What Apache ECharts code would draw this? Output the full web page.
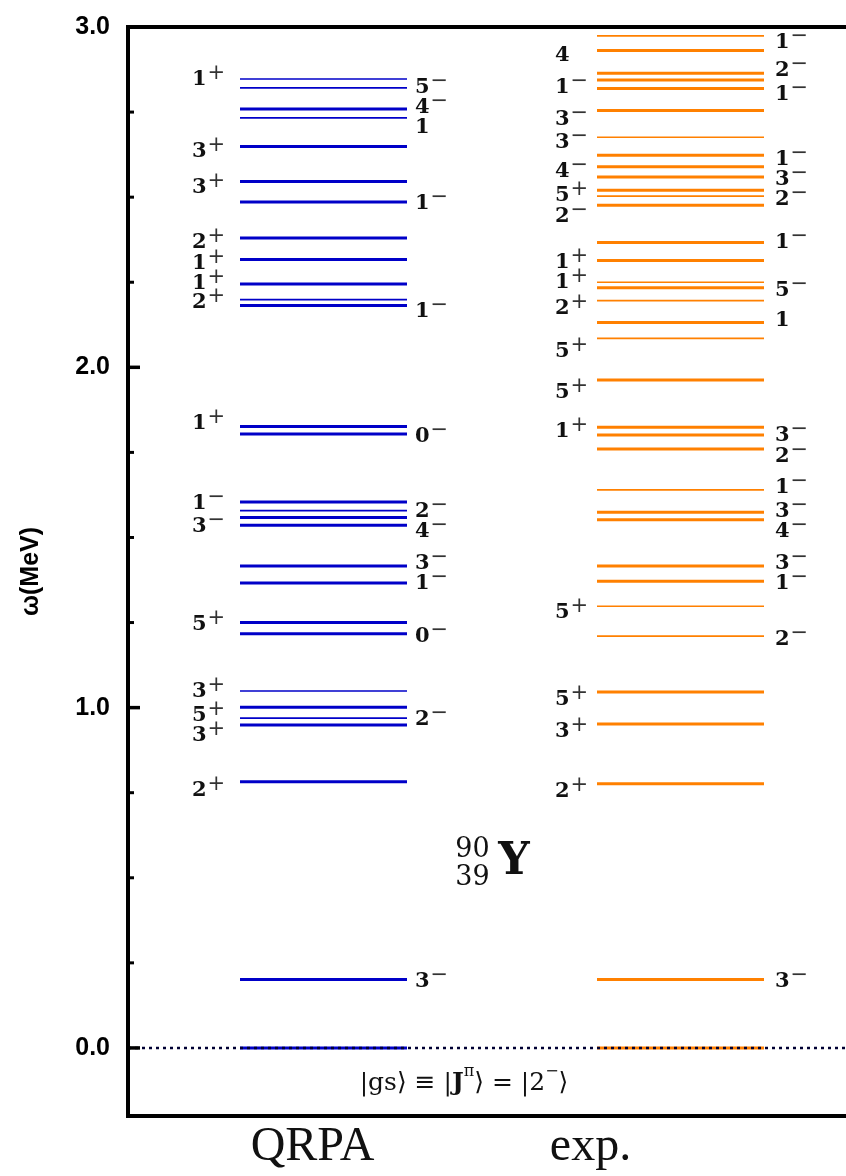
<!DOCTYPE html>
<html>
<head>
<meta charset="utf-8">
<script src="https://cdn.jsdelivr.net/npm/echarts@6/dist/echarts.min.js"></script>
<style>html,body{margin:0;padding:0;background:#fff;overflow:hidden}#c{width:846px;height:1176px}</style>
</head>
<body>
<div id="c"></div>
<script>
// ---- data (energies in MeV) ----
const columns = ['QRPA', 'exp.'];
const qrpaLevels = [2.847,2.821,2.759,2.733,2.649,2.546,2.486,2.380,2.317,2.245,2.199,2.182,
  1.826,1.804,1.604,1.579,1.559,1.536,1.416,1.366,1.250,1.217,1.049,1.001,0.969,0.949,0.782,0.201,0.0];
const qrpaWeak = [1,1,0,1,0,0,0,0,0,0,1,0, 0,0,0,1,0,0,0,0, 0,0,1,0,1,0,0, 0,0];
const expLevels = [2.974,2.931,2.864,2.844,2.819,2.755,2.676,2.623,2.589,2.559,2.520,2.503,2.476,
  2.367,2.314,2.250,2.234,2.196,2.132,2.085,1.963,1.824,1.801,1.760,1.640,1.574,1.552,1.416,1.371,
  1.298,1.210,1.046,0.952,0.776,0.201,0.0];
const expWeak = [1,0,0,0,0,0,1,0,0,0,0,1,0, 0,0,1,0,1,0,1, 0,0,0,0,1,0,0,0,0, 1,1,0,0,0,0,0];

// spin-parity labels: [text, energy position of label]
const qrpaLeftLabels = [['1+',2.849],['3+',2.638],['3+',2.530],['2+',2.369],['1+',2.307],['1+',2.248],['2+',2.192],
  ['1+',1.839],['1-',1.604],['3-',1.535],['5+',1.248],['3+',1.050],['5+',0.981],['3+',0.921],['2+',0.759]];
const qrpaRightLabels = [['5-',2.826],['4-',2.766],['1',2.707],['1-',2.483],['1-',2.168],['0-',1.800],['2-',1.579],
  ['4-',1.521],['3-',1.426],['1-',1.369],['0-',1.212],['2-',0.967],['3-',0.197]];
const expLeftLabels = [['4',2.918],['1-',2.826],['3-',2.731],['3-',2.663],['4-',2.579],['5+',2.509],['2-',2.447],
  ['1+',2.310],['1+',2.251],['2+',2.176],['5+',2.050],['5+',1.930],['1+',1.813],['5+',1.283],['5+',1.026],
  ['3+',0.932],['2+',0.756]];
const expRightLabels = [['1-',2.957],['2-',2.874],['1-',2.803],['1-',2.614],['3-',2.555],['2-',2.496],['1-',2.369],
  ['5-',2.229],['1',2.140],['3-',1.803],['2-',1.741],['1-',1.650],['3-',1.579],['4-',1.521],['3-',1.426],
  ['1-',1.369],['2-',1.202],['3-',0.197]];

const yMin = -0.2, yMax = 3.0;
const yMajorTicks = [0, 1, 2, 3];
const yTickLabels = ['0.0', '1.0', '2.0', '3.0'];
const yMinorTicks = [0.25,0.5,0.75,1.25,1.5,1.75,2.25,2.5,2.75];

// ---- layout / style ----
const W = 846, H = 1176;
const GRID_LEFT = 128, GRID_TOP = 27, GRID_BOTTOM = 60, GRID_W = 760;
const colCenter = [323.5 - GRID_LEFT, 680.5 - GRID_LEFT]; // in x-axis units (px from grid left)
const halfLen = 83.5;
const leftOff = [-131.5, -125.5], rightOff = [91.5, 94.5];
const colColor = ['#0000c8', '#ff8000'];
const DIGIT_ADV = 14.5;

function levelData(levels, weak, col) { return levels.map((e, i) => [col, e, weak[i]]); }
function labelData(list, col, side) { return list.map(l => [col, l[1], side, l[0]]); }

const chart = echarts.init(document.getElementById('c'), null, {renderer: 'canvas', width: W, height: H});
const frameStyle = {stroke: '#000', lineWidth: 4};
const option = {
  animation: false,
  backgroundColor: '#fff',
  grid: {left: GRID_LEFT, top: GRID_TOP, bottom: GRID_BOTTOM, width: GRID_W, show: false,
    containLabel: false, outerBoundsMode: 'none'},
  xAxis: {type: 'value', min: 0, max: GRID_W, show: false, axisLine: {show: false}, splitLine: {show: false}},
  yAxis: {type: 'value', min: yMin, max: yMax, position: 'left',
    axisLine: {show: false}, axisTick: {show: false}, axisLabel: {show: false}, splitLine: {show: false},
    name: '\u03c9(MeV)', nameLocation: 'middle', nameGap: 84, nameRotate: 90,
    nameTextStyle: {fontFamily: 'Liberation Sans', fontWeight: 'bold', fontSize: 25, color: '#000'}},
  series: [
    { // level lines
      type: 'custom', z: 2,
      data: levelData(qrpaLevels, qrpaWeak, 0).concat(levelData(expLevels, expWeak, 1)),
      renderItem: function (params, api) {
        const col = api.value(0);
        const p = api.coord([colCenter[col], api.value(1)]);
        const weak = api.value(2) === 1;
        return {type: 'line',
          shape: {x1: p[0] - halfLen, y1: p[1], x2: p[0] + halfLen, y2: p[1]},
          style: {stroke: colColor[col], lineWidth: weak ? 1.6 : 3}};
      }
    },
    { // J^pi labels
      type: 'custom', z: 3,
      data: labelData(qrpaLeftLabels, 0, 0).concat(labelData(qrpaRightLabels, 0, 1),
        labelData(expLeftLabels, 1, 0), labelData(expRightLabels, 1, 1)),
      renderItem: function (params, api) {
        const col = api.value(0), side = api.value(2);
        const t = String(api.value(3));
        const p = api.coord([colCenter[col], api.value(1)]);
        const x = p[0] + (side === 0 ? leftOff[col] : rightOff[col]);
        const children = [{type: 'text', x: x, y: p[1] + 1,
          style: {text: t.charAt(0), align: 'left', verticalAlign: 'middle', fill: '#111',
            font: 'bold 21px "DejaVu Serif"'}}];
        if (t.length > 1) {
          children.push({type: 'text', x: x + DIGIT_ADV + 1, y: p[1] - 5,
            style: {text: t.charAt(1) === '-' ? '\u2212' : '+', align: 'left', verticalAlign: 'middle',
              fill: '#333', font: '21px "DejaVu Sans"'}});
        }
        return {type: 'group', children: children};
      }
    },
    { // dotted ground-state line
      type: 'custom', z: 4, data: [[0, 0]], clip: false,
      renderItem: function (params, api) {
        const p = api.coord([0, api.value(1)]);
        const cs = params.coordSys;
        return {type: 'line', shape: {x1: cs.x, y1: p[1], x2: api.getWidth(), y2: p[1]},
          style: {stroke: '#000033', lineWidth: 2.5, lineDash: [3, 4]}};
      }
    },
    { // y-axis major ticks + labels
      type: 'custom', z: 5, data: yMajorTicks.map((v, i) => [0, v, i]),
      renderItem: function (params, api) {
        const p = api.coord([0, api.value(1)]);
        return {type: 'group', children: [
          {type: 'line', shape: {x1: p[0], y1: p[1], x2: p[0] + 12, y2: p[1]}, style: {stroke: '#000', lineWidth: 3.5}},
          {type: 'text', x: p[0] - 18, y: p[1], style: {text: yTickLabels[api.value(2)], align: 'right', verticalAlign: 'middle',
            fontFamily: 'Liberation Sans', fontWeight: 'bold', fontSize: 25, fill: '#000'}}
        ]};
      }
    },
    { // y-axis minor ticks
      type: 'custom', z: 5, data: yMinorTicks.map(v => [0, v]),
      renderItem: function (params, api) {
        const p = api.coord([0, api.value(1)]);
        return {type: 'line', shape: {x1: p[0], y1: p[1], x2: p[0] + 6, y2: p[1]}, style: {stroke: '#000', lineWidth: 3}};
      }
    }
  ],
  graphic: [
    // frame: left, top, bottom (the right side is outside the picture)
    {type: 'line', z: 10, shape: {x1: GRID_LEFT, y1: GRID_TOP - 2, x2: GRID_LEFT, y2: H - GRID_BOTTOM + 2}, style: frameStyle},
    {type: 'line', z: 10, shape: {x1: GRID_LEFT - 2, y1: GRID_TOP, x2: W + 10, y2: GRID_TOP}, style: frameStyle},
    {type: 'line', z: 10, shape: {x1: GRID_LEFT - 2, y1: H - GRID_BOTTOM, x2: W + 10, y2: H - GRID_BOTTOM}, style: frameStyle},
    {type: 'text', x: 472.5, y: 850, style: {text: '90', font: '27px "DejaVu Serif"', align: 'center', verticalAlign: 'middle', fill: '#111'}},
    {type: 'text', x: 472.5, y: 878, style: {text: '39', font: '27px "DejaVu Serif"', align: 'center', verticalAlign: 'middle', fill: '#111'}},
    {type: 'text', x: 514, y: 863, style: {text: 'Y', font: 'bold 44px "DejaVu Serif"', align: 'center', verticalAlign: 'middle', fill: '#111'}},
    {type: 'text', x: 464, y: 1080, style: {
      text: '{t|\u007cgs\u27e9 \u2261 \u007c}{b|J}{p|\u03c0}{t|\u27e9 = \u007c2}{p|\u2212}{t|\u27e9}',
      align: 'center', verticalAlign: 'middle', fill: '#111',
      rich: {
        t: {fontFamily: 'DejaVu Serif', fontSize: 25, lineHeight: 32, verticalAlign: 'bottom', fill: '#111'},
        b: {fontFamily: 'DejaVu Serif', fontWeight: 'bold', fontSize: 25, lineHeight: 32, verticalAlign: 'bottom', fill: '#111'},
        p: {fontFamily: 'DejaVu Serif', fontSize: 16, lineHeight: 18, verticalAlign: 'top', fill: '#111'}
      }}},
    {type: 'text', x: 312.5, y: 1147, style: {text: columns[0], font: '48px "Liberation Serif"', align: 'center', verticalAlign: 'middle', fill: '#111'}},
    {type: 'text', x: 590.5, y: 1147, style: {text: columns[1], font: '48px "Liberation Serif"', align: 'center', verticalAlign: 'middle', fill: '#111'}}
  ]
};
chart.setOption(option);
</script>
</body>
</html>
